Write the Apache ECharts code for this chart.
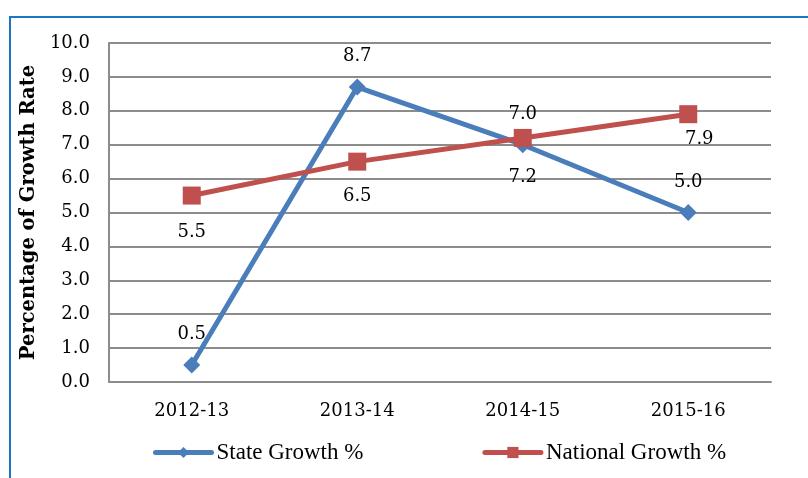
<!DOCTYPE html>
<html>
<head>
<meta charset="utf-8">
<script src="https://cdn.jsdelivr.net/npm/echarts@6/dist/echarts.min.js"></script>
<style>
  html, body { margin: 0; padding: 0; background: #fff; }
  #chart { width: 808px; height: 478px; }
</style>
</head>
<body>
<div id="chart"></div>
<script>
// data
var years = ['2012-13', '2013-14', '2014-15', '2015-16'];
var stateGrowth = [0.5, 8.7, 7.0, 5.0];
var nationalGrowth = [5.5, 6.5, 7.2, 7.9];

// label nudges for the red series (style only)
var nationalLabelOffset = [[0, 0], [0, -2], [0, 2], [11, -12]];

var chart = echarts.init(document.getElementById('chart'));

var serif = 'DejaVu Serif';

option = {
  backgroundColor: '#fff',
  animation: false,
  graphic: [
    {
      type: 'rect',
      shape: { x: 10, y: 17, width: 900, height: 600 },
      style: { fill: 'none', stroke: '#1c76c6', lineWidth: 2 },
      silent: true
    }
  ],
  grid: {
    left: 109,
    right: 37,
    top: 43,
    bottom: 96
  },
  legend: {
    left: 148,
    top: 436,
    itemWidth: 56,
    itemHeight: 14,
    itemGap: 119,
    lineStyle: { width: 5, cap: 'round' },
    textStyle: {
      fontFamily: 'Liberation Serif',
      fontSize: 23,
      color: '#000'
    },
    data: ['State Growth %', 'National Growth %']
  },
  xAxis: {
    type: 'category',
    data: years,
    axisLine: { lineStyle: { color: '#8c8c8c', width: 2 } },
    axisTick: { show: false },
    axisLabel: {
      margin: 20,
      fontFamily: serif,
      fontSize: 18,
      color: '#000'
    }
  },
  yAxis: {
    type: 'value',
    min: 0,
    max: 10,
    interval: 1,
    name: 'Percentage of Growth Rate',
    nameLocation: 'middle',
    nameGap: 66,
    nameTextStyle: {
      fontFamily: serif,
      fontWeight: 'bold',
      fontSize: 19.5,
      color: '#000'
    },
    axisLine: { show: true, lineStyle: { color: '#8c8c8c', width: 2 } },
    axisTick: { show: false },
    splitLine: { lineStyle: { color: '#8c8c8c', width: 2 } },
    axisLabel: {
      margin: 19,
      fontFamily: serif,
      fontSize: 18,
      color: '#000',
      formatter: function (v) { return v.toFixed(1); }
    }
  },
  series: [
    {
      name: 'State Growth %',
      type: 'line',
      data: stateGrowth,
      symbol: 'diamond',
      symbolSize: 17,
      color: '#4a7ebb',
      lineStyle: { width: 5, color: '#4a7ebb' },
      label: {
        show: true,
        position: 'top',
        distance: 13,
        fontFamily: serif,
        fontSize: 18,
        color: '#000',
        formatter: function (p) { return p.value.toFixed(1); }
      },
      z: 2
    },
    {
      name: 'National Growth %',
      type: 'line',
      data: nationalGrowth.map(function (v, i) {
        return { value: v, label: { offset: nationalLabelOffset[i] } };
      }),
      symbol: 'rect',
      symbolSize: 18,
      color: '#c0504d',
      lineStyle: { width: 5, color: '#c0504d' },
      label: {
        show: true,
        position: 'bottom',
        distance: 19,
        fontFamily: serif,
        fontSize: 18,
        color: '#000',
        formatter: function (p) { return p.value.toFixed(1); }
      },
      z: 3
    }
  ]
};

chart.setOption(option);
</script>
</body>
</html>
